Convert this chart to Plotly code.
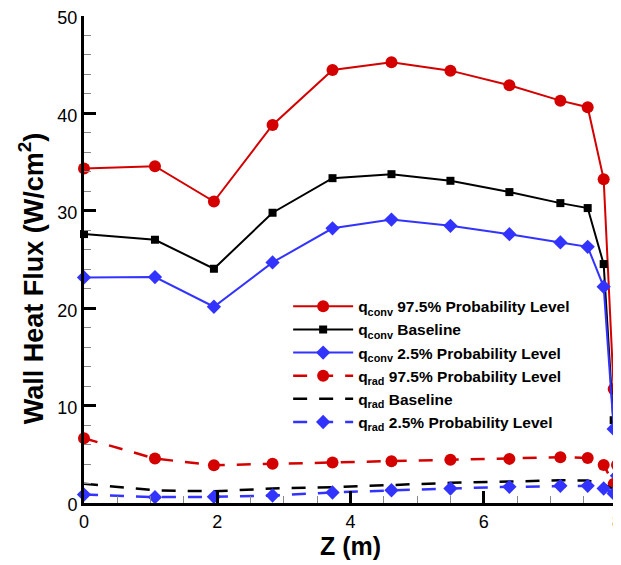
import plotly.graph_objects as go

z = [0, 1.065, 1.95, 2.83, 3.73, 4.615, 5.5, 6.385, 7.15, 7.56, 7.80, 7.95, 8.0]

conv_975 = [34.34, 34.58, 30.95, 38.82, 44.46, 45.25, 44.39, 42.89, 41.31, 40.64, 33.25, 11.7, 2.0]
conv_base = [27.61, 27.03, 24.05, 29.8, 33.35, 33.76, 33.08, 31.92, 30.79, 30.28, 24.53, 8.5, 2.3]
conv_025 = [23.16, 23.2, 20.15, 24.7, 28.2, 29.1, 28.46, 27.6, 26.75, 26.3, 22.2, 7.6, 2.8]

rad_975 = [6.65, 4.56, 3.88, 4.02, 4.15, 4.29, 4.43, 4.53, 4.70, 4.63, 3.9, 1.95, 3.9]
rad_base = [1.97, 1.3, 1.2, 1.49, 1.62, 1.87, 2.07, 2.2, 2.34, 2.3, 1.9, 1.4, 1.2]
rad_025 = [0.87, 0.6, 0.63, 0.77, 1.08, 1.31, 1.49, 1.66, 1.76, 1.76, 1.49, 0.97, 0.9]

names = [
    "q<sub>conv</sub> 97.5% Probability Level",
    "q<sub>conv</sub> Baseline",
    "q<sub>conv</sub> 2.5% Probability Level",
    "q<sub>rad</sub> 97.5% Probability Level",
    "q<sub>rad</sub> Baseline",
    "q<sub>rad</sub> 2.5% Probability Level",
]

y_title = "<b>Wall Heat Flux (W/cm<sup>2</sup>)</b>"
x_title = "<b>Z (m)</b>"

RED = "#d40000"
BLACK = "#000000"
BLUE = "#3333ff"
DASH = "14px,12px"
FONT = "Liberation Sans, Arial, sans-serif"

fig = go.Figure()
fig.add_trace(go.Scatter(x=z, y=conv_975, name=names[0], mode="lines+markers",
                         line=dict(color=RED, width=2),
                         marker=dict(symbol="circle", size=12, color=RED), cliponaxis=False))
fig.add_trace(go.Scatter(x=z, y=conv_base, name=names[1], mode="lines+markers",
                         line=dict(color=BLACK, width=2),
                         marker=dict(symbol="square", size=8, color=BLACK), cliponaxis=False))
fig.add_trace(go.Scatter(x=z, y=conv_025, name=names[2], mode="lines+markers",
                         line=dict(color=BLUE, width=2),
                         marker=dict(symbol="diamond", size=11, color=BLUE), cliponaxis=False))
fig.add_trace(go.Scatter(x=z, y=rad_975, name=names[3], mode="lines+markers",
                         line=dict(color=RED, width=2.5, dash=DASH),
                         marker=dict(symbol="circle", size=12, color=RED), cliponaxis=False))
fig.add_trace(go.Scatter(x=z, y=rad_base, name=names[4], mode="lines",
                         line=dict(color=BLACK, width=2.5, dash=DASH), cliponaxis=False))
fig.add_trace(go.Scatter(x=z, y=rad_025, name=names[5], mode="lines+markers",
                         line=dict(color=BLUE, width=2.5, dash=DASH),
                         marker=dict(symbol="diamond", size=11, color=BLUE), cliponaxis=False))

axis_common = dict(
    showgrid=False, zeroline=False, showline=True, linecolor="black", linewidth=3,
    ticks="inside", ticklen=12, tickwidth=3, tickcolor="black",
    tickfont=dict(size=18, color="black", family=FONT),
    minor=dict(ticks="inside", ticklen=7, tickwidth=1, tickcolor="#888888"),
    mirror=False, automargin=False, ticklabeloverflow="allow",
)

fig.update_xaxes(range=[0, 8], dtick=2, minor_dtick=0.5,
                 title=dict(text=x_title, font=dict(size=25, color="black", family=FONT),
                            standoff=6),
                 **axis_common)
fig.update_yaxes(range=[0, 50], dtick=10, minor_dtick=2, ticklabelshift=2, **axis_common)

fig.add_annotation(text=y_title, xref="paper", yref="paper", x=-0.099, y=0.462,
                   xanchor="center", yanchor="middle", textangle=-90, showarrow=False,
                   font=dict(size=27, color="black", family=FONT))

fig.update_layout(
    width=613, height=557,
    margin=dict(l=76, r=4, t=8, b=62, autoexpand=False),
    plot_bgcolor="white", paper_bgcolor="white",
    font=dict(family=FONT, color="black"),
    legend=dict(x=0.383, y=0.438, xanchor="left", yanchor="top",
                bgcolor="rgba(0,0,0,0)", borderwidth=0,
                font=dict(size=15.5, color="black", family=FONT, weight="bold"),
                tracegroupgap=0, itemwidth=60),
    showlegend=True,
)

fig.write_html("out.html")
